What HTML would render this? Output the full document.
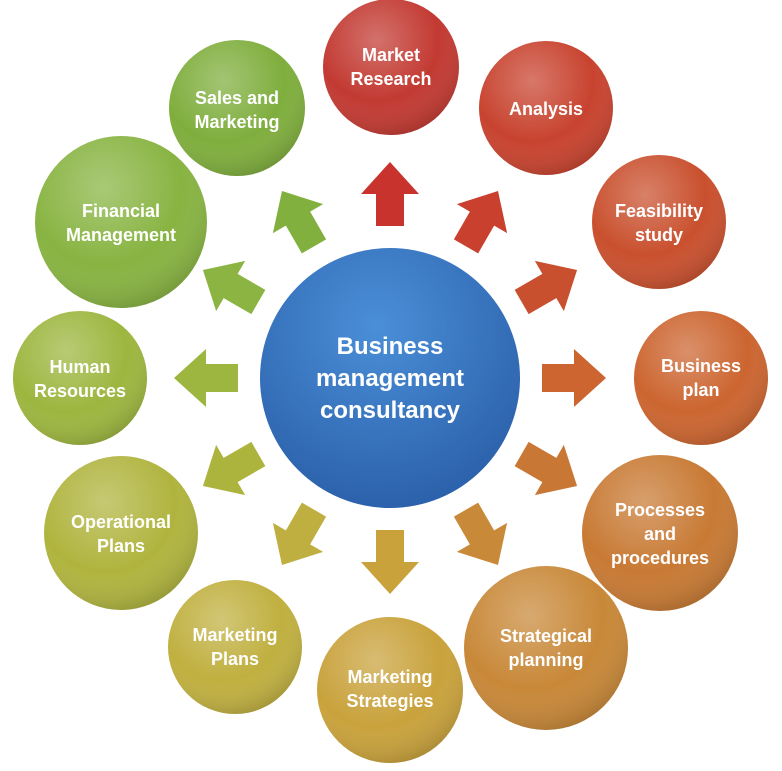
<!DOCTYPE html>
<html><head><meta charset="utf-8"><style>
html,body{margin:0;padding:0;background:#fff;}
svg{display:block}
text{font-family:"Liberation Sans",sans-serif;font-weight:bold;fill:#fff;text-anchor:middle;}
</style></head><body>
<svg width="782" height="771" viewBox="0 0 782 771" xmlns="http://www.w3.org/2000/svg">
<defs>
<radialGradient id="sh" cx="0.4" cy="0.3" r="0.75">
<stop offset="0" stop-color="#fff" stop-opacity="0.28"/>
<stop offset="0.6" stop-color="#fff" stop-opacity="0"/>
<stop offset="1" stop-color="#000" stop-opacity="0.18"/>
</radialGradient>
<radialGradient id="cg" cx="0.45" cy="0.3" r="0.75">
<stop offset="0" stop-color="#4a8fd8"/>
<stop offset="1" stop-color="#2a5ea8"/>
</radialGradient>
<path id="ar" d="M0,-32 L29,0 L14,0 L14,32 L-14,32 L-14,0 L-29,0 Z"/>
</defs>
<g transform="translate(390,378)">
<use href="#ar" fill="#c8332e" transform="rotate(0) translate(0,-184)"/>
<use href="#ar" fill="#c9402f" transform="rotate(30) translate(0,-184)"/>
<use href="#ar" fill="#c9502f" transform="rotate(60) translate(0,-184)"/>
<use href="#ar" fill="#cc6530" transform="rotate(90) translate(0,-184)"/>
<use href="#ar" fill="#c97734" transform="rotate(120) translate(0,-184)"/>
<use href="#ar" fill="#c88a38" transform="rotate(150) translate(0,-184)"/>
<use href="#ar" fill="#c9a23c" transform="rotate(180) translate(0,-184)"/>
<use href="#ar" fill="#bfae40" transform="rotate(210) translate(0,-184)"/>
<use href="#ar" fill="#adb43e" transform="rotate(240) translate(0,-184)"/>
<use href="#ar" fill="#9db63f" transform="rotate(270) translate(0,-184)"/>
<use href="#ar" fill="#8cb442" transform="rotate(300) translate(0,-184)"/>
<use href="#ar" fill="#82b03e" transform="rotate(330) translate(0,-184)"/>
</g>
<circle cx="390" cy="378" r="130" fill="url(#cg)"/>
<text x="390" y="354" font-size="24">Business</text>
<text x="390" y="386" font-size="24">management</text>
<text x="390" y="418" font-size="24">consultancy</text>

<g>
<circle cx="391" cy="67" r="68" fill="#c23a32"/><circle cx="391" cy="67" r="68" fill="url(#sh)"/>
<text x="391" y="61" font-size="18">Market</text><text x="391" y="85" font-size="18">Research</text>

<circle cx="546" cy="108" r="67" fill="#c8432f"/><circle cx="546" cy="108" r="67" fill="url(#sh)"/>
<text x="546" y="115" font-size="18">Analysis</text>

<circle cx="659" cy="222" r="67" fill="#c9502e"/><circle cx="659" cy="222" r="67" fill="url(#sh)"/>
<text x="659" y="217" font-size="18">Feasibility</text><text x="659" y="241" font-size="18">study</text>

<circle cx="701" cy="378" r="67" fill="#cc6530"/><circle cx="701" cy="378" r="67" fill="url(#sh)"/>
<text x="701" y="372" font-size="18">Business</text><text x="701" y="396" font-size="18">plan</text>

<circle cx="660" cy="533" r="78" fill="#c87a34"/><circle cx="660" cy="533" r="78" fill="url(#sh)"/>
<text x="660" y="516" font-size="18">Processes</text><text x="660" y="540" font-size="18">and</text><text x="660" y="564" font-size="18">procedures</text>

<circle cx="546" cy="648" r="82" fill="#c88838"/><circle cx="546" cy="648" r="82" fill="url(#sh)"/>
<text x="546" y="642" font-size="18">Strategical</text><text x="546" y="666" font-size="18">planning</text>

<circle cx="390" cy="690" r="73" fill="#c9a23c"/><circle cx="390" cy="690" r="73" fill="url(#sh)"/>
<text x="390" y="683" font-size="18">Marketing</text><text x="390" y="707" font-size="18">Strategies</text>

<circle cx="235" cy="647" r="67" fill="#c0b040"/><circle cx="235" cy="647" r="67" fill="url(#sh)"/>
<text x="235" y="641" font-size="18">Marketing</text><text x="235" y="665" font-size="18">Plans</text>

<circle cx="121" cy="533" r="77" fill="#b0b43e"/><circle cx="121" cy="533" r="77" fill="url(#sh)"/>
<text x="121" y="528" font-size="18">Operational</text><text x="121" y="552" font-size="18">Plans</text>

<circle cx="80" cy="378" r="67" fill="#9db63f"/><circle cx="80" cy="378" r="67" fill="url(#sh)"/>
<text x="80" y="373" font-size="18">Human</text><text x="80" y="397" font-size="18">Resources</text>

<circle cx="121" cy="222" r="86" fill="#88b442"/><circle cx="121" cy="222" r="86" fill="url(#sh)"/>
<text x="121" y="217" font-size="18">Financial</text><text x="121" y="241" font-size="18">Management</text>

<circle cx="237" cy="108" r="68" fill="#7fae3d"/><circle cx="237" cy="108" r="68" fill="url(#sh)"/>
<text x="237" y="104" font-size="18">Sales and</text><text x="237" y="128" font-size="18">Marketing</text>
</g>
</svg>
</body></html>
